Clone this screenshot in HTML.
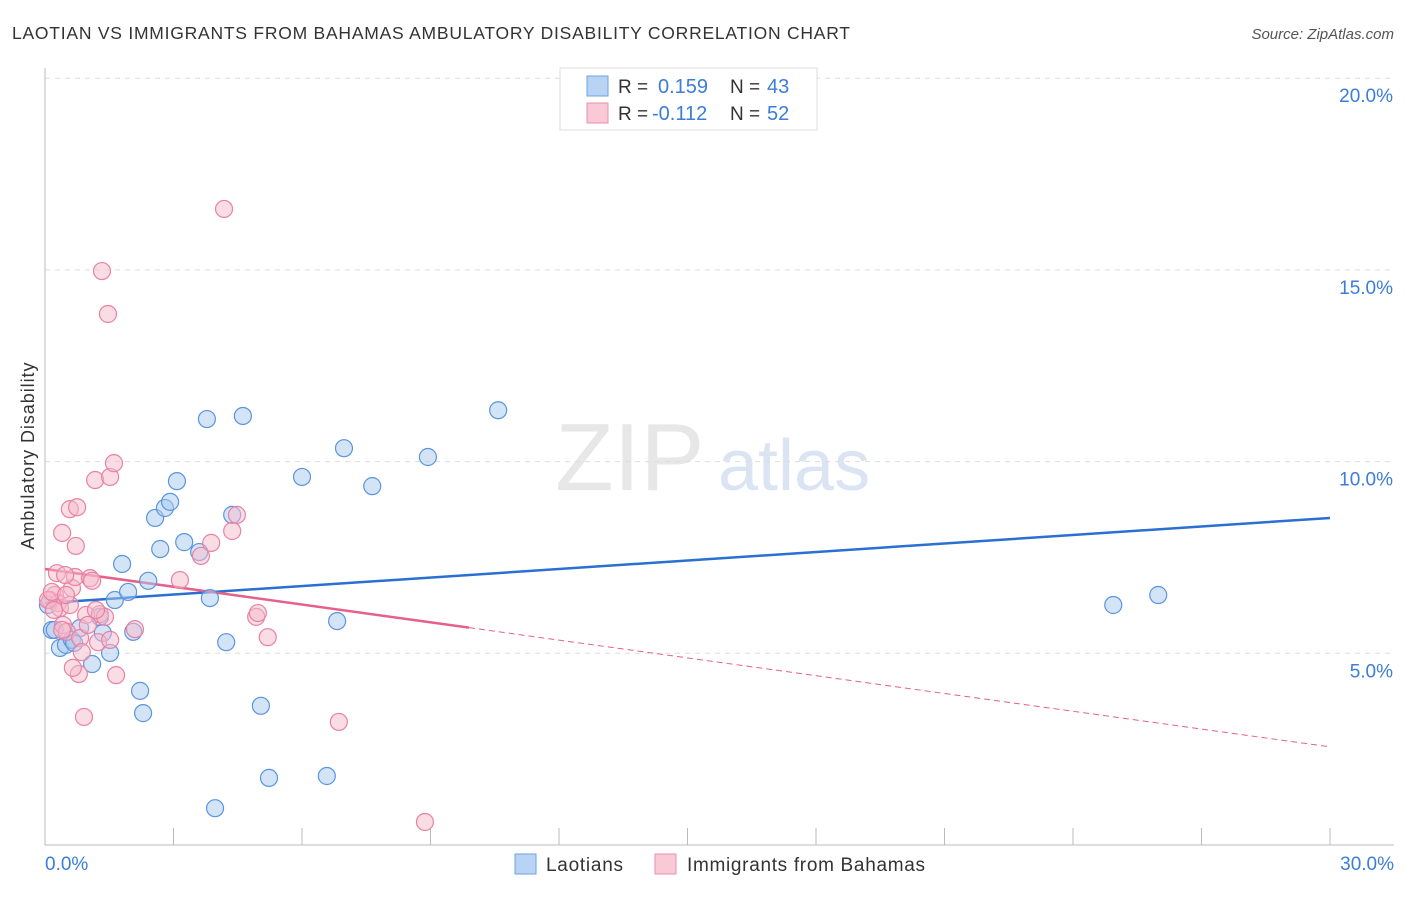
<!DOCTYPE html>
<html><head><meta charset="utf-8"><style>
body{margin:0;background:#fff;font-family:"Liberation Sans",sans-serif;}
svg text{font-family:"Liberation Sans",sans-serif;}
</style></head><body>
<svg id="chart" width="1406" height="892" xmlns="http://www.w3.org/2000/svg">
<text x="12" y="39" font-size="17.5" fill="#333" textLength="838" lengthAdjust="spacing">LAOTIAN VS IMMIGRANTS FROM BAHAMAS AMBULATORY DISABILITY CORRELATION CHART</text>
<text x="1394" y="39" font-size="15" fill="#555" text-anchor="end" font-style="italic">Source: ZipAtlas.com</text>
<g opacity="0.5">
<text x="555" y="490" font-size="96" fill="#d0d0d0" font-family="Liberation Serif,serif">ZIP</text>
<text x="718" y="490" font-size="72" fill="#b8cbe8">atlas</text>
</g>
<g id="grid"></g>
<g id="axes"></g>
<g id="lines"></g>
<g id="points"></g>
<text transform="translate(34,456) rotate(-90)" font-size="18" fill="#333" text-anchor="middle" textLength="187" lengthAdjust="spacing">Ambulatory Disability</text>
<g>
<rect x="560" y="68" width="257" height="62" fill="#fff" stroke="#ddd"/>
<rect x="587" y="76" width="21" height="20" fill="#b8d3f4" stroke="#6fa2e0"/>
<text x="618" y="93" font-size="19" fill="#333">R = </text><text x="658" y="93" font-size="20" fill="#3b7dd8">0.159</text>
<text x="730" y="93" font-size="19" fill="#333">N = </text><text x="767" y="93" font-size="20" fill="#3b7dd8">43</text>
<rect x="587" y="103" width="21" height="20" fill="#f9c9d7" stroke="#ea90ae"/>
<text x="618" y="120" font-size="19" fill="#333">R = </text><text x="652" y="120" font-size="20" fill="#3b7dd8">-0.112</text>
<text x="730" y="120" font-size="19" fill="#333">N = </text><text x="767" y="120" font-size="20" fill="#3b7dd8">52</text>
</g>
<g>
<rect x="515" y="854" width="21" height="20" fill="#b8d3f4" stroke="#6fa2e0"/>
<text x="546" y="871" font-size="19" fill="#333" textLength="77" lengthAdjust="spacing">Laotians</text>
<rect x="655" y="854" width="21" height="20" fill="#f9c9d7" stroke="#ea90ae"/>
<text x="687" y="871" font-size="19" fill="#333" textLength="238" lengthAdjust="spacing">Immigrants from Bahamas</text>
</g>
</svg>
<script>
const xTicks=[0,30];
const yTicks=[5,10,15,20];
const blueX=[0.16,0.35,0.49,0.63,0.82,1.10,1.28,1.35,1.52,1.63,1.80,1.94,2.06,2.22,2.29,2.41,2.57,2.69,2.80,2.92,3.08,3.25,3.60,3.78,3.85,3.97,4.23,4.37,4.62,5.04,5.23,6.00,6.58,6.82,6.98,7.64,8.94,10.58,24.94,25.99,0.07,0.23,0.68];
const blueY=[5.61,5.14,5.22,5.35,5.66,4.72,5.95,5.53,5.01,6.39,7.33,6.60,5.56,4.02,3.44,6.89,8.53,7.72,8.79,8.95,9.49,7.90,7.64,11.11,6.44,0.96,5.29,8.61,11.19,3.63,1.75,9.60,1.80,5.84,10.35,9.36,10.12,11.34,6.26,6.52,6.26,5.61,5.27];
const pinkX=[0.12,0.23,0.30,0.35,0.40,0.42,0.51,0.58,0.63,0.70,0.72,0.75,0.79,0.82,0.86,0.91,0.96,1.05,1.10,1.17,1.24,1.28,1.33,1.40,1.47,1.52,1.61,1.66,2.10,3.15,3.64,3.88,4.18,4.37,4.48,4.93,4.97,5.20,6.86,8.87,0.07,0.16,0.28,0.47,0.58,1.00,1.52,0.40,0.21,0.49,1.19,0.65];
const pinkY=[6.39,6.52,6.31,6.18,8.14,5.74,5.56,8.76,6.70,6.99,7.80,8.81,4.46,5.40,5.03,3.34,6.00,6.96,6.89,9.52,5.29,6.02,14.97,5.95,13.85,9.60,9.96,4.43,5.63,6.91,7.54,7.88,16.59,8.19,8.61,5.95,6.05,5.42,3.21,0.60,6.39,6.60,7.09,7.04,6.26,5.74,5.35,5.61,6.13,6.52,6.13,4.62];
const blueLine=[6.31,8.53];
const pinkLine=[7.20,2.56];
const pinkSolidEnd=9.9;
const NS="http://www.w3.org/2000/svg";
const X=v=>45+v/30*1285, Y=v=>845-v/5*191.7;
function mk(tag,parent,attrs){const e=document.createElementNS(NS,tag);for(const k in attrs)e.setAttribute(k,attrs[k]);document.getElementById(parent).appendChild(e);return e;}
yTicks.forEach(t=>{
 const l=mk('line','grid',{x1:45,x2:1394,y1:Y(t),y2:Y(t),stroke:'#ddd','stroke-dasharray':'5,5'});
 
 
 const tx=mk('text','grid',{x:1393,y:Y(t)+24,'font-size':19,fill:'#3b7dd8','text-anchor':'end'});
 tx.textContent=t.toFixed(1)+'%';
 
 
});
const ax=mk('line','axes',{x1:45,x2:45,y1:68,y2:845,stroke:'#bbb'});


const bx=mk('line','axes',{x1:45,x2:1394,y1:845,y2:845,stroke:'#bbb'});


for(let i=1;i<=10;i++){const xt=mk('line','axes',{x1:X(i*3),x2:X(i*3),y1:828,y2:845,stroke:'#bbb'});
 
 }
xTicks.forEach((t,i)=>{const tx=mk('text','axes',{x:i?1394:45,y:870,'font-size':19,fill:'#3b7dd8','text-anchor':i?'end':'start'});
 tx.textContent=t.toFixed(1)+'%';
 
 });
function dots(xs,ys,fill,stroke,name){xs.forEach((x,i)=>{const c=mk('circle','points',{cx:X(x),cy:Y(ys[i]),r:8.5,fill:fill,'fill-opacity':0.5,stroke:stroke,'stroke-width':1.2});
 
 });}
dots(blueX,blueY,'#a9c9f0','#5a95de','laotian-point');
dots(pinkX,pinkY,'#f6b9cb','#e882a4','bahamas-point');
const bl=mk('line','lines',{x1:X(0),y1:Y(blueLine[0]),x2:X(30),y2:Y(blueLine[1]),stroke:'#2a6fd1','stroke-width':2.5});


const pm=pinkLine[0]+(pinkLine[1]-pinkLine[0])*pinkSolidEnd/30;
const pl=mk('line','lines',{x1:X(0),y1:Y(pinkLine[0]),x2:X(pinkSolidEnd),y2:Y(pm),stroke:'#e5608a','stroke-width':2.5});


const pd=mk('line','lines',{x1:X(pinkSolidEnd),y1:Y(pm),x2:X(30),y2:Y(pinkLine[1]),stroke:'#e5608a','stroke-width':1,'stroke-dasharray':'6,4'});


</script>
</body></html>
